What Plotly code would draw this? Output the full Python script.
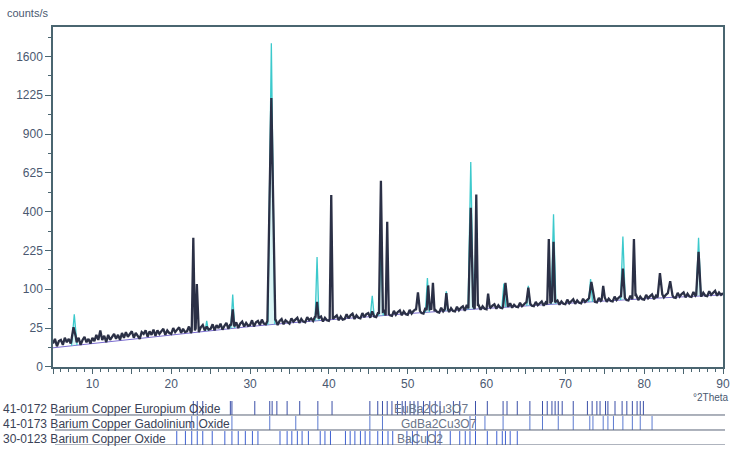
import numpy as np
import plotly.graph_objects as go

# ---------------- data ----------------
# measured counts, 0.25 deg steps from 5.0 to 90.0 deg 2Theta (4 values per degree)
band_start = 5.0
band_step = 0.25
band_counts = [
    9, 13, 7, 11,   12, 8, 14, 10,   13, 9, 15, 22,   10, 14, 8, 12,   15, 10, 13, 9,
    14, 11, 17, 12,  22, 12, 16, 10,  17, 12, 15, 18,  13, 17, 12, 19,  14, 20, 15, 18,
    21, 14, 19, 16,  13, 20, 18, 22,  15, 21, 17, 23,  16, 22, 18, 21,  24, 17, 22, 19,
    18, 25, 20, 23,  26, 19, 24, 20,  21, 27, 19, 25,  22, 28, 20, 26,  29, 22, 27, 23,
    24, 30, 22, 29,  25, 31, 23, 28,  32, 24, 30, 26,  27, 33, 25, 31,  34, 27, 32, 28,
    29, 36, 27, 33,  35, 29, 37, 31,  30, 36, 32, 38,  31, 37, 29, 35,  38, 30, 36, 33,
    31, 39, 34, 37,  40, 32, 38, 34,  33, 41, 36, 39,  35, 42, 33, 40,  42, 34, 40, 36,
    35, 43, 38, 41,  44, 36, 42, 37,  38, 46, 39, 44,  47, 38, 44, 40,  39, 48, 41, 46,
    48, 40, 51, 42,  41, 49, 43, 50,  52, 42, 48, 44,  43, 52, 45, 50,  53, 44, 51, 46,
    45, 54, 47, 52,  55, 46, 53, 48,  47, 58, 50, 55,  56, 48, 54, 50,  49, 58, 51, 56,
    59, 50, 57, 52,  51, 60, 53, 58,  61, 52, 64, 55,  53, 62, 56, 60,  63, 54, 61, 56,
    55, 64, 58, 62,  65, 56, 63, 58,  57, 66, 68, 60,  67, 58, 64, 60,  59, 68, 61, 66,
    69, 60, 67, 62,  61, 70, 63, 68,  71, 62, 69, 64,  63, 72, 65, 70,  73, 64, 71, 66,
    65, 75, 67, 72,  76, 66, 73, 68,  67, 77, 70, 74,  78, 68, 82, 70,  69, 79, 72, 76,
    80, 70, 77, 72,  71, 82, 74, 79,  83, 72, 80, 74,  73, 84, 76, 81,  85, 74, 82, 76,
    75, 86, 78, 83,  87, 76, 84, 79,  77, 89, 80, 86,  90, 78, 87, 80,  79, 91, 82, 88,
    92, 80, 89, 82,  81, 93, 84, 90,  94, 82, 91, 84,  83, 95, 86, 92,  96, 84, 92, 86,
    90,
]

# measured peaks: position (deg), top (counts), half base width (deg)
peak_pos = [7.6, 22.8, 23.25, 27.8, 32.7, 38.5, 40.3, 46.6, 47.4, 51.3,
            52.6, 53.2, 54.9, 58.0, 58.7, 60.2, 62.4, 65.3, 67.9, 68.5,
            73.3, 74.8, 77.3, 78.7, 82.0, 83.3, 86.9]
peak_top = [26, 277, 114, 55, 1200, 70, 490, 575, 350, 92,
            110, 117, 90, 420, 493, 89, 117, 104, 271, 260,
            120, 109, 160, 271, 146, 122, 220]
peak_hw = [0.3, 0.2, 0.15, 0.2, 0.5, 0.2, 0.2, 0.25, 0.2, 0.25,
           0.2, 0.2, 0.2, 0.3, 0.2, 0.2, 0.3, 0.25, 0.2, 0.2,
           0.3, 0.2, 0.25, 0.2, 0.3, 0.3, 0.3]

# background line, every 5 deg from 5 to 90
bg_theta = [5, 10, 15, 20, 25, 30, 35, 40, 45, 50, 55, 60, 65, 70, 75, 80, 85, 90]
bg_counts = [6, 9, 13, 17, 22, 27, 32, 37, 42, 47, 52, 57, 62, 67, 72, 77, 82, 86]

# fitted peaks (cyan)
fit_pos = [7.7, 24.5, 27.8, 32.7, 38.5, 45.5, 46.6, 52.5, 54.9, 58.0, 62.2, 65.3, 68.5, 73.2, 77.3, 86.9]
fit_top = [46, 35, 87, 1740, 200, 84, 220, 131, 95, 697, 115, 109, 387, 128, 282, 277]
fit_hw = [0.35, 0.2, 0.25, 0.45, 0.25, 0.25, 0.3, 0.25, 0.2, 0.35, 0.25, 0.2, 0.3, 0.25, 0.3, 0.3]

# reference pattern stick positions (deg 2Theta)
ref_names = ["41-0172 Barium Copper Europium Oxide",
             "41-0173 Barium Copper Gadolinium Oxide",
             "30-0123 Barium Copper Oxide"]
ref_formulas = ["EuBa2Cu3O7", "GdBa2Cu3O7", "BaCuO2"]
ref_formula_pos = [48.0, 48.9, 48.4]
sticks_eu = [22.8, 23.3, 24.0, 27.5, 27.7, 30.6, 32.5, 32.8, 33.4, 34.7, 36.3, 38.6, 40.4,
             45.2, 46.2, 46.8, 47.4, 48.0, 48.7, 49.3, 49.7, 50.3, 50.8, 51.3, 52.0, 52.8,
             53.5, 54.1, 55.8, 56.6, 58.6, 60.1, 62.1, 62.6, 63.9, 65.5, 67.1, 67.7, 68.3,
             68.7, 69.1, 69.6, 71.0, 72.8, 73.4, 74.0, 74.4, 75.1, 75.4, 76.3, 77.2, 77.8,
             78.5, 79.1, 79.5, 79.9]
sticks_gd = [22.6, 23.3, 27.7, 32.5, 35.8, 38.6, 45.2, 46.8, 57.9, 58.6, 59.8, 62.1, 65.5,
             67.1, 69.1, 71.0, 73.1, 73.5, 74.8, 75.4, 76.1, 77.3, 78.5, 79.5, 81.0]
sticks_ba = [20.7, 21.8, 22.6, 23.3, 24.0, 25.2, 26.8, 27.7, 28.5, 29.4, 30.3, 31.0, 33.8,
             34.7, 35.3, 36.0, 36.6, 37.4, 38.9, 39.5, 40.2, 42.1, 42.7, 43.3, 44.0, 44.6,
             45.2, 46.2, 46.8, 47.5, 48.1, 49.9, 50.6, 51.2, 52.5, 53.5, 54.1, 55.4, 56.6,
             57.3, 57.9, 58.6, 60.1, 61.3, 62.0, 62.4, 63.0, 63.9]
ref_sticks = [sticks_eu, sticks_gd, sticks_ba]

x_ticks = [5, 10, 15, 20, 25, 30, 35, 40, 45, 50, 55, 60, 65, 70, 75, 80, 85, 90]
x_ticktext = ["", "10", "", "20", "", "30", "", "40", "", "50", "", "60", "", "70", "", "80", "", "90"]
y_tick_counts = [0, 25, 100, 225, 400, 625, 900, 1225, 1600]

# ---------------- build traces ----------------
band_x = band_start + band_step * np.arange(len(band_counts))
band_y = np.array(band_counts, dtype=float)

px = list(band_x)
py = list(band_y)
for pos, top, hw in zip(peak_pos, peak_top, peak_hw):
    lo, hi = pos - hw, pos + hw
    keep = [(a, b) for a, b in zip(px, py) if not (lo < a < hi)]
    keep += [(lo, float(np.interp(lo, band_x, band_y))), (pos, top),
             (hi, float(np.interp(hi, band_x, band_y)))]
    keep.sort()
    px = [k[0] for k in keep]
    py = [k[1] for k in keep]

fx, fy = [], []
for pos, top, hw in zip(fit_pos, fit_top, fit_hw):
    b1 = float(np.interp(pos - hw, bg_theta, bg_counts))
    b2 = float(np.interp(pos + hw, bg_theta, bg_counts))
    fx += [pos - hw, pos, pos + hw, None]
    fy += [np.sqrt(b1), np.sqrt(top), np.sqrt(b2), None]

fig = go.Figure()

fig.add_trace(go.Scatter(x=bg_theta, y=np.sqrt(bg_counts), mode="lines",
                         line=dict(color="#7a6cd0", width=1), hoverinfo="skip",
                         showlegend=False))
fig.add_trace(go.Scatter(x=fx, y=fy, mode="lines", fill="toself",
                         fillcolor="rgba(150,225,228,0.35)",
                         line=dict(color="#3cc9cc", width=1.3), hoverinfo="skip",
                         showlegend=False))
fig.add_trace(go.Scatter(x=px, y=np.sqrt(py), mode="lines",
                         line=dict(color="#2b3046", width=2.3), hoverinfo="skip",
                         showlegend=False))

stick_colors = ["#3a4fa8", "#5b7ad0", "#3d60d2"]
for i, sticks in enumerate(ref_sticks):
    base = 2 - i
    sx, sy = [], []
    for s in sticks:
        sx += [s, s, None]
        sy += [base, base + 0.93, None]
    fig.add_trace(go.Scatter(x=sx, y=sy, mode="lines", xaxis="x2", yaxis="y2",
                             line=dict(color=stick_colors[i], width=1),
                             hoverinfo="skip", showlegend=False))

W, H = 733, 453
ml, mr, mt, mb = 53, 10, 27, 0
plot_w = W - ml - mr
plot_h = H - mt - mb


def px2paper_x(p):
    return (p - ml) / plot_w


def px2paper_y(p):
    return (H - mb - p) / plot_h


axis_col = "#4a6570"
tick_font = dict(family="Liberation Sans, Arial, sans-serif", size=12, color="#4a5870")

fig.update_layout(
    width=W, height=H,
    margin=dict(l=ml, r=mr, t=mt, b=mb, pad=0),
    paper_bgcolor="white", plot_bgcolor="white",
    xaxis=dict(domain=[0, 1], range=[5, 90], anchor="y",
               tickvals=x_ticks, ticktext=x_ticktext,
               ticks="outside", ticklen=5, tickcolor=axis_col, tickwidth=1,
               minor=dict(dtick=1, ticks="outside", ticklen=3, tickcolor=axis_col),
               showline=True, linecolor=axis_col, linewidth=1.5, mirror=True,
               showgrid=False, zeroline=False, tickfont=tick_font),
    yaxis=dict(domain=[px2paper_y(372.5), 1], range=[0, 43.8], anchor="x",
               tickvals=[np.sqrt(v) for v in y_tick_counts],
               ticktext=[str(v) for v in y_tick_counts],
               ticks="outside", ticklen=6, tickcolor=axis_col,
               minor=dict(tickvals=[2.5 + 5 * k for k in range(9)], ticks="outside",
                          ticklen=3, tickcolor=axis_col),
               showline=True, linecolor=axis_col, linewidth=1.5, mirror=True,
               showgrid=False, zeroline=False, tickfont=tick_font),
    xaxis2=dict(domain=[0, 1], matches="x", anchor="y2", visible=False),
    yaxis2=dict(domain=[px2paper_y(452), px2paper_y(406.2)], range=[0, 3],
                anchor="x2", visible=False),
)

annots = []
annots.append(dict(text="counts/s", xref="paper", yref="paper",
                   x=px2paper_x(5), y=px2paper_y(13), xanchor="left", yanchor="middle",
                   showarrow=False, font=dict(family="Liberation Sans, Arial", size=11, color="#4a5870")))
annots.append(dict(text="°2Theta", xref="paper", yref="paper",
                   x=px2paper_x(731), y=px2paper_y(404), xanchor="right", yanchor="middle",
                   showarrow=False, font=dict(family="Liberation Sans, Arial", size=10, color="#4a5870")))
for i, name in enumerate(ref_names):
    base = 2 - i
    annots.append(dict(text=name, xref="paper", yref="y2", x=px2paper_x(1), y=base + 0.42,
                       xanchor="left", yanchor="middle", showarrow=False,
                       font=dict(family="Liberation Sans, Arial", size=12, color="#3a4256")))
    annots.append(dict(text=ref_formulas[i], xref="x2", yref="y2", x=ref_formula_pos[i],
                       y=base + 0.42, xanchor="left", yanchor="middle", showarrow=False,
                       font=dict(family="Liberation Sans, Arial", size=12, color="#6a7488")))
fig.update_layout(annotations=annots)

shapes = []
for i in range(3):
    base = 2 - i
    shapes.append(dict(type="line", xref="paper", yref="y2", x0=px2paper_x(55), x1=px2paper_x(725),
                       y0=base, y1=base, line=dict(color="#5a6478", width=1)))
fig.update_layout(shapes=shapes)

fig.write_html("out.html", config={"displayModeBar": False},
               post_script="document.body.style.margin='0';document.body.style.padding='0';")
